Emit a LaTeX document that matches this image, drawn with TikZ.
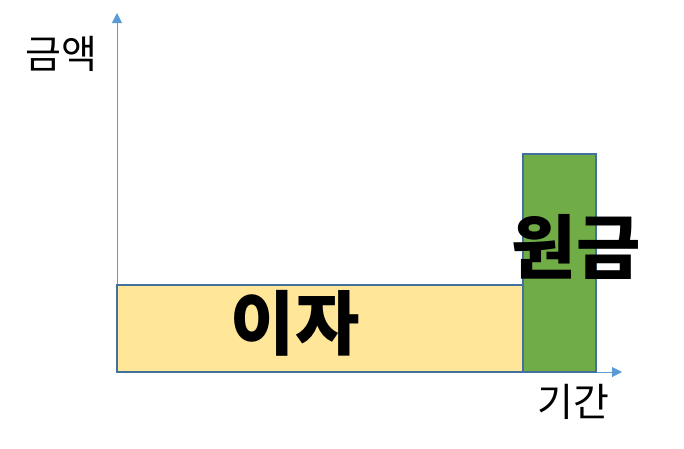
\documentclass[tikz,border=0pt]{standalone}
\usepackage{fontspec}
\setmainfont{Noto Sans CJK KR}
\usetikzlibrary{positioning,arrows.meta}
\definecolor{myaxis}{RGB}{91,155,213}
\definecolor{myedge}{RGB}{65,113,156}
\definecolor{myyellow}{RGB}{255,230,153}
\definecolor{mygreen}{RGB}{112,173,71}

\tikzset{
  axisline/.style={draw=myaxis, line width=1pt, -{Triangle[length=10pt,width=10pt]}},
  barbox/.style={draw=myedge, line width=1.8pt, anchor=south west, inner sep=0pt, outer sep=0pt},
  axislabel/.style={font=\fontsize{39}{42}\selectfont},
  barlabel/.style={font=\fontsize{70}{74}\selectfont\bfseries}
}

\begin{document}
\begin{tikzpicture}[x=1pt, y=-1pt]
\useasboundingbox (0,0) rectangle (684,448);

% axes
\coordinate (origin) at (117,372);
\coordinate (ytop) at (117,13);
\coordinate (xend) at (622,372);
\draw[axisline] (origin) -- (ytop);
\draw[axisline] (origin) -- (xend);

% interest bar
\node[barbox, fill=myyellow, minimum width=406pt, minimum height=87pt] at (origin)
(interest) {};

% principal bar
\node[barbox, fill=mygreen, minimum width=73pt, minimum height=218pt] at (interest.south east)
(principal) {};

% labels
\node[axislabel] at (61,54) (amount) {금액};
\node[axislabel] at (573,402) (period) {기간};
\node[barlabel] at (295,323) (interestlbl) {이자};
\node[barlabel] at (576,247) (principallbl) {원금};

\end{tikzpicture}
\end{document}
